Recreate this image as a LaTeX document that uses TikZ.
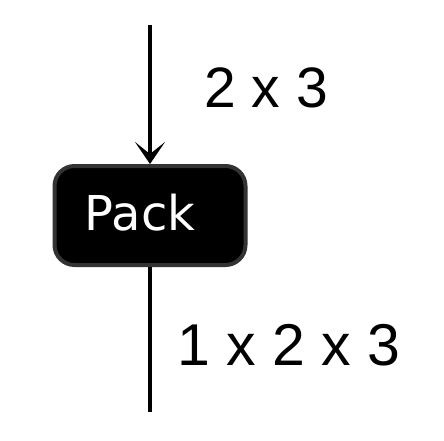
\documentclass[tikz,border=0pt]{standalone}
\usepackage{fontspec}
\setmainfont{Liberation Sans}
\newfontfamily\packfont{DejaVu Sans}
\usetikzlibrary{arrows.meta}
\begin{document}
\begin{tikzpicture}[x=1pt,y=1pt,
  opbox/.style={draw=black!80, line width=4pt, fill=black, rounded corners=20pt,
    minimum width=191pt, minimum height=99pt, inner sep=0pt},
  packtxt/.style={font=\packfont\fontsize{48}{48}\selectfont, text=white, inner sep=0pt, anchor=base},
  dimlabel/.style={font=\fontsize{57}{57}\selectfont, inner sep=0pt, anchor=base west},
  flow/.style={line width=4pt, black}]
\useasboundingbox (0,0) rectangle (444,440);
\coordinate (top) at (150,415);
\coordinate (bot) at (150,28);
\node[opbox] (pack) at (150,224.5) {};
\node[packtxt] (packtext) at (140,210) {Pack};
\draw[flow, -{Stealth[length=22pt,width=30pt,inset=12pt]}] (top) -- (pack.north);
\draw[flow] (pack.south) -- (bot);
\node[dimlabel] (inlbl) at (204,333) {2 x 3};
\node[dimlabel, font=\fontsize{59}{59}\selectfont] (outlbl) at (177,75) {1 x 2 x 3};
\end{tikzpicture}
\end{document}
